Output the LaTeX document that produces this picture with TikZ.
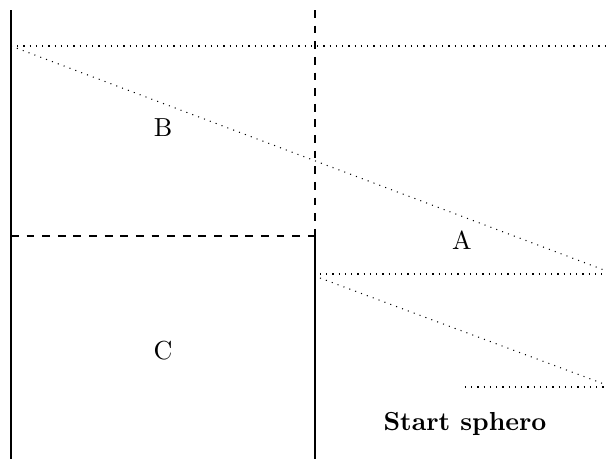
\documentclass[tikz,border=0pt]{standalone}
\usepackage{tikz}
\usetikzlibrary{positioning,calc}

\begin{document}
\begin{tikzpicture}[
            x=0.384pt, y=-0.384pt,
            wall/.style={
                    thin
                },
            split/.style={
                    dashed
                },
            ray/.style={
                    dotted
                },
            region/.style={
                    font=\normalsize
                }
        ]
        \useasboundingbox (0,0) rectangle (606,459);

        % Reperes
        \coordinate (lefttop) at (11,10);
        \coordinate (leftbot) at (11,459);
        \coordinate (midtop) at (315,10);
        \coordinate (midcut) at (315,236);
        \coordinate (midbot) at (315,459);
        \coordinate (topleft) at (11,46);
        \coordinate (topright) at (606,46);
        \coordinate (rayend) at (604,270);
        \coordinate (lowstart) at (320,274);
        \coordinate (lowright) at (606,274);
        \coordinate (lowdiag) at (320,278);
        \coordinate (lowend) at (604,384);
        \coordinate (baseleft) at (465,387);
        \coordinate (baseright) at (606,387);

        % Parois
        \draw[wall] (lefttop) -- (leftbot);
        \draw[wall] (midcut) -- (midbot);
        \draw[split] (midtop) -- (midcut);
        \draw[split] (11,236) -- (midcut);

        % Rayons
        \draw[ray] (topleft) -- (topright);
        \draw[ray] (topleft) -- (rayend);
        \draw[ray] (lowstart) -- (lowright);
        \draw[ray] (lowdiag) -- (lowend);
        \draw[ray] (baseleft) -- (baseright);

        % Zones
        \node[region] (zoneB) at (163,128) {B};
        \node[region] (zoneA) at (462,240) {A};
        \node[region] (zoneC) at (163,351) {C};
        \node[region, font=\bfseries] (start) at (465,424) {Start sphero};

    \end{tikzpicture}
\end{document}
